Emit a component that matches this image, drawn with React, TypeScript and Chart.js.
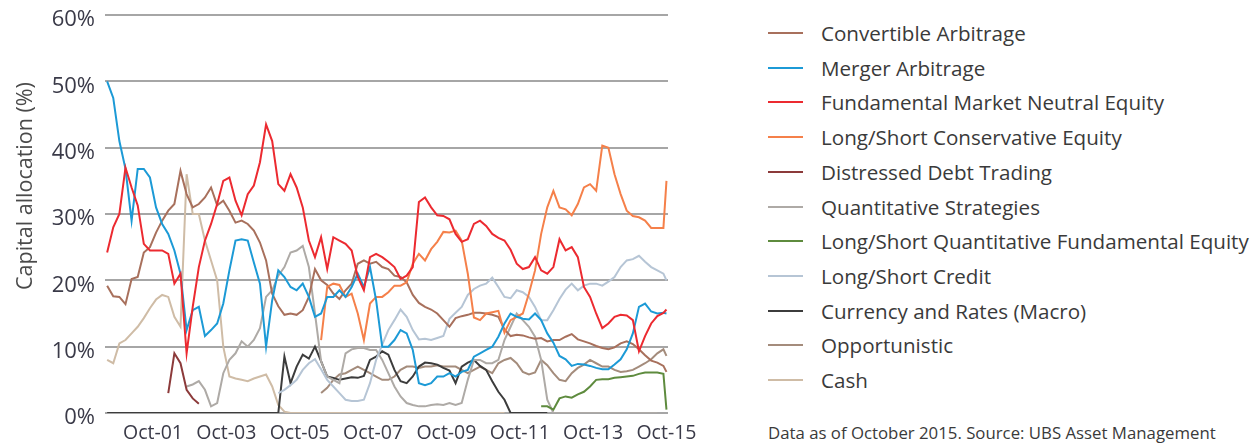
import React, { useEffect, useRef } from 'react';
import { Chart, registerables } from 'chart.js';

Chart.register(...registerables);

const FONT = "'Open Sans', 'Noto Sans', sans-serif";

// Samples every two months from Jul-2000 (month index counted from Jan-2000), last sample Oct-2015
const SAMPLE_COUNT = 93;
const sampleMonths = Array.from({ length: SAMPLE_COUNT }, (_, k) => Math.min(6 + 2 * k, 189));

const xTickMonths = [21, 45, 69, 93, 117, 141, 165, 189];
const xTickLabels = ['Oct-01', 'Oct-03', 'Oct-05', 'Oct-07', 'Oct-09', 'Oct-11', 'Oct-13', 'Oct-15'];
const yTickValues = [0, 10, 20, 30, 40, 50, 60];

// Capital allocation (%) per strategy; each series begins at its start sample index
const convertibleStart = 0;
const convertibleValues = [
  19.2, 17.6, 17.5, 16.4, 20.2, 20.5, 24.2, 25, 27.2, 29, 30.5, 31.5, 36.5, 33, 31, 31.5, 32.5, 34, 31.3, 32, 30.5, 28.7, 29,
  28.5, 27.5, 25.7, 23, 18, 16.1, 14.8, 15, 14.8, 15.5, 17.5, 21.7, 20, 19.3, 18, 17.2, 18.5, 19.5, 22.5, 23, 22.5, 22.8, 22,
  21.7, 20.7, 20.5, 19.7, 17.8, 16.6, 16, 15.6, 15, 14, 13, 14.3, 14.6, 14.8, 15.1, 15.1, 15, 14.8, 14.5, 12.6, 11.6, 11.8, 11.7,
  11.4, 11.2, 11.3, 10.8, 11, 11, 11.5, 11.9, 11.1, 10.8, 10.5, 10.1, 9.8, 9.6, 9.9, 10.5, 10.8, 10.4, 9.6, 8.7, 7.9, 7.6, 7.1, 6.2,
];

const mergerStart = 0;
const mergerValues = [
  50, 47.5, 41, 36.8, 29, 36.8, 36.8, 35.5, 31, 28.5, 27, 24.5, 21, 12.5, 15.5, 16, 11.6, 12.5, 13.5, 16.5, 21.5, 26, 26.2,
  26, 22.7, 19.5, 10, 17, 21.5, 20.5, 19, 18.5, 19.5, 17.5, 14.5, 15, 17.5, 17.5, 18.5, 17.5, 19, 21, 19, 22, 17, 10,
  10, 11, 12.5, 12, 9.5, 4.5, 4.2, 4.5, 5.5, 5.5, 6, 5.5, 6.2, 6.5, 8.5, 9, 9.5, 10, 11.5, 13.5, 15, 14.5, 14.2,
  14.1, 15, 14, 12, 10.6, 8.6, 8.1, 7.1, 7.4, 7.3, 7.1, 6.8, 6.6, 6.6, 7.3, 8.1, 9.6, 12, 16, 16.5, 15.3, 15, 15.1, 15,
];

const fundamentalStart = 0;
const fundamentalValues = [
  24.2, 28, 30, 37, 34, 31.3, 25.5, 24.5, 24.5, 24.5, 24, 19.5, 21, 9, 16, 22, 26, 28.5, 31.5, 35, 35.5, 32, 29.8,
  33, 34.3, 37.8, 43.5, 41, 34.5, 33.5, 36, 34, 31, 26, 23.5, 26.5, 21.7, 26.5, 26, 25.5, 24.5, 20.5, 18.5, 23.5, 24, 23.5,
  22.8, 22, 20.2, 20.7, 22, 31.8, 32.5, 31, 29.8, 29.7, 29.2, 27, 25.8, 26.2, 28.5, 29, 28.2, 27, 26.4, 26, 24.6, 22.5, 21.7,
  22, 23.5, 21.5, 21, 22, 26.2, 24.5, 25, 23.5, 19, 17.5, 15, 12.8, 13.5, 14.5, 14.8, 14.7, 14, 9.3, 11.6, 13.5, 14.6, 15.1, 15.6,
];

const conservativeStart = 35;
const conservativeValues = [
  11, 19, 19.5, 19.3, 17.5, 18, 15, 11, 16.5, 17.5, 17.5,
  18.2, 19.2, 19.2, 19.7, 22.5, 24, 23, 24.7, 25.8, 27.3, 27.2, 27.5, 26, 21, 14.4, 14, 15, 15.2, 15.4, 12.1, 14, 14.5, 15,
  18, 21.5, 27, 31, 33.5, 31, 30.7, 29.8, 31.5, 34, 34.5, 33.5, 40.3, 40, 36, 33, 30.5, 29.7, 29.5, 29, 27.9, 27.9, 27.9, 35,
];

const distressedStart = 10;
const distressedValues = [3, 9, 7.5, 3.5, 2.2, 1.4];

const quantStart = 13;
const quantValues = [
  4, 4.3, 4.8, 3.5, 1, 1.5, 6, 8, 9, 10.8,
  10, 11, 12.8, 17.5, 18.5, 20.7, 22, 24.2, 24.5, 25.2, 22, 15, 7.8, 5.5, 5, 4.5, 9, 9.6, 9.8, 9.8, 9.5, 9.5, 8,
  6, 4, 2.5, 1.5, 1.2, 1, 1, 1.2, 1.3, 1.2, 1.5, 1.2, 1.5, 5, 8, 8, 7.5, 7.5, 8, 11, 13, 15, 14,
  13, 11.5, 8, 2, 0, 0, 0, 0, 0, 0, 0, 0, 0, 0, 0, 0, 0, 0, 0, 0, 0, 0,
];

const lsQuantStart = 71;
const lsQuantValues = [1, 1, 0.5, 2.2, 2.5, 2.3, 2.8, 3.2, 4, 5, 5.1, 5.1, 5.3, 5.4, 5.5, 5.6, 5.9, 6.1, 6.1, 6.1, 5.9, 0.5];

const creditStart = 28;
const creditValues = [
  3, 3.5, 4.2, 5, 6.5, 7.5, 8.1, 6.6, 5, 4, 3, 2, 1.8, 1.8, 2, 4.5, 8, 10.3,
  12.5, 14, 15.6, 14.5, 12.5, 11.1, 11.2, 11, 11.3, 11.6, 14.2, 15.1, 16, 17.8, 18.7, 19.2, 19.5, 20.4, 19, 17.5, 17.3, 18.5, 18.2,
  17.5, 16, 14, 14, 15.5, 17.2, 18.6, 19.5, 18.5, 19.2, 19.5, 19.5, 19.2, 19.8, 20.5, 22, 23, 23.2, 23.7, 22.8, 22, 21.5, 21, 20,
];

const macroStart = 0;
const macroValues = [
  0, 0, 0, 0, 0, 0, 0, 0, 0, 0, 0, 0, 0, 0, 0, 0, 0, 0, 0, 0, 0, 0, 0, 0, 0, 0, 0, 0, 0,
  8.5, 4.5, 7, 8.8, 8.2, 10, 7.8, 5.5, 5.3, 5, 5.2, 5.4, 5.3, 5.6, 8, 8.5, 9.3,
  8.8, 6.5, 4.8, 4.5, 5.5, 7, 7.6, 7.5, 7.3, 6.8, 6.4, 4.5, 7, 7.6, 8, 7.1, 6.5, 4.8, 3.2, 2, 0, 0, 0, 0, 0, 0, 0,
];

const opportunisticStart = 35;
const opportunisticValues = [
  3, 3.8, 5, 5.8, 6, 6.5, 7, 6.5, 6, 5.5, 5,
  5, 5.5, 6.5, 7, 7, 6.8, 7, 7, 7.2, 7, 7, 7, 6.5, 6, 6.5, 7, 6.5, 6, 7.5, 8, 8.3, 7.5, 6.2,
  5.8, 6.1, 8, 7.2, 6, 5, 4.8, 6, 6.8, 7.3, 8, 7.5, 7, 7, 6.5, 6.2, 6.3, 6.5, 7, 7.5, 8.1, 9, 9.6, 8.6,
];

const cashStart = 0;
const cashValues = [
  8, 7.5, 10.5, 11, 12, 13, 14.3, 15.8, 17.1, 17.8, 17.5, 14.5, 13, 36, 30, 30, 26, 23, 20, 10, 5.5, 5.2, 5,
  4.8, 5.2, 5.5, 5.8, 4, 1.2, 0.2, 0, 0, 0, 0, 0, 0, 0, 0, 0, 0, 0, 0, 0, 0, 0, 0,
  0, 0, 0, 0, 0, 0, 0, 0, 0, 0, 0, 0, 0, 0, 0, 0, 0, 0, 0, 0,
];

const seriesNames = [
  'Convertible Arbitrage',
  'Merger Arbitrage',
  'Fundamental Market Neutral Equity',
  'Long/Short Conservative Equity',
  'Distressed Debt Trading',
  'Quantitative Strategies',
  'Long/Short Quantitative Fundamental Equity',
  'Long/Short Credit',
  'Currency and Rates (Macro)',
  'Opportunistic',
  'Cash',
];
const seriesColors = [
  '#a8705c', '#1c9ad6', '#ec2a30', '#f5804a', '#8c3a3a', '#aeaaa6',
  '#5e8b3e', '#b6c5d5', '#3c3c3c', '#a48c7c', '#cfbca6',
];
const seriesStarts = [
  convertibleStart, mergerStart, fundamentalStart, conservativeStart, distressedStart, quantStart,
  lsQuantStart, creditStart, macroStart, opportunisticStart, cashStart,
];
const seriesValues = [
  convertibleValues, mergerValues, fundamentalValues, conservativeValues, distressedValues, quantValues,
  lsQuantValues, creditValues, macroValues, opportunisticValues, cashValues,
];
// drawing order (lower = on top)
const seriesOrder = [4, 1, 0, 2, 5, 7, 3, 6, 8, 9, 10];

const footnote = 'Data as of October 2015. Source: UBS Asset Management';
const yTitle = 'Capital allocation (%)';

const CANVAS_W = 720;
const CANVAS_H = 446;
const PLOT_LEFT = 105;
const PLOT_RIGHT = 668;
const PLOT_TOP = 15;
const X_AXIS_H = 33;

function buildPoints(start: number, values: number[]) {
  return values.map((v, i) => ({ x: sampleMonths[start + i], y: v }));
}

export default function App() {
  const canvasRef = useRef<HTMLCanvasElement | null>(null);

  useEffect(() => {
    if (!canvasRef.current) return;
    const datasets = seriesNames.map((name, i) => ({
      label: name,
      data: buildPoints(seriesStarts[i], seriesValues[i]),
      borderColor: seriesColors[i],
      backgroundColor: seriesColors[i],
      borderWidth: 2,
      pointRadius: 0,
      tension: 0,
      fill: false,
      order: seriesOrder[i],
    }));
    const chart = new Chart(canvasRef.current, {
      type: 'line',
      data: { datasets },
      options: {
        animation: false,
        responsive: false,
        maintainAspectRatio: false,
        layout: { padding: { left: 0, top: PLOT_TOP, right: CANVAS_W - PLOT_RIGHT, bottom: 0 } },
        plugins: { legend: { display: false }, tooltip: { enabled: false }, title: { display: false } },
        scales: {
          x: {
            type: 'linear',
            min: 5.3,
            max: 189.5,
            grid: { display: false, drawTicks: false },
            border: { display: false },
            afterBuildTicks: (scale: any) => {
              scale.ticks = xTickMonths.map((v) => ({ value: v }));
            },
            afterFit: (scale: any) => {
              scale.height = X_AXIS_H;
              scale.paddingLeft = 0;
              scale.paddingRight = 0;
            },
            ticks: {
              autoSkip: false,
              maxRotation: 0,
              padding: 9,
              color: '#3a3a48',
              font: { family: FONT, size: 19.5 },
              callback: (value: any) => {
                const idx = xTickMonths.indexOf(Number(value));
                return idx >= 0 ? xTickLabels[idx] : '';
              },
            },
          },
          y: {
            type: 'linear',
            min: 0,
            max: 60,
            grid: { color: '#a6a6a6', lineWidth: 2, drawTicks: false },
            border: { display: false },
            afterBuildTicks: (scale: any) => {
              scale.ticks = yTickValues.map((v) => ({ value: v }));
            },
            afterFit: (scale: any) => {
              scale.width = PLOT_LEFT;
              scale.paddingTop = 0;
              scale.paddingBottom = 0;
            },
            ticks: {
              padding: 10,
              labelOffset: 5,
              color: '#3a3a48',
              font: { family: FONT, size: 22 },
              callback: (value: any) => `${value}%`,
            },
          },
        },
      },
    });
    return () => chart.destroy();
  }, []);

  return (
    <div style={{ position: 'absolute', left: 0, top: 0, width: 1254, height: 446, background: '#fff', fontFamily: FONT }}>
      <canvas ref={canvasRef} width={CANVAS_W} height={CANVAS_H} style={{ position: 'absolute', left: 0, top: 0, width: CANVAS_W, height: CANVAS_H }} />
      <div
        style={{
          position: 'absolute', left: 24 - 150, top: 186 - 14, width: 300, height: 28, lineHeight: '28px',
          textAlign: 'center', transform: 'rotate(-90deg)', fontSize: 21.5, color: '#4a4a4a', whiteSpace: 'nowrap',
        }}
      >
        {yTitle}
      </div>
      {seriesNames.map((name, i) => (
        <div key={name} style={{ position: 'absolute', left: 768, top: 33 + 34.7 * i - 14, height: 28, display: 'flex', alignItems: 'center' }}>
          <div style={{ width: 35, height: 2, background: seriesColors[i] }} />
          <div style={{ marginLeft: 18, fontSize: 20.6, color: '#3a3a3a', whiteSpace: 'nowrap', lineHeight: '28px' }}>{name}</div>
        </div>
      ))}
      <div style={{ position: 'absolute', left: 768, top: 433 - 12, height: 24, lineHeight: '24px', fontSize: 16.8, color: '#3a3a3a', whiteSpace: 'nowrap' }}>
        {footnote}
      </div>
    </div>
  );
}
